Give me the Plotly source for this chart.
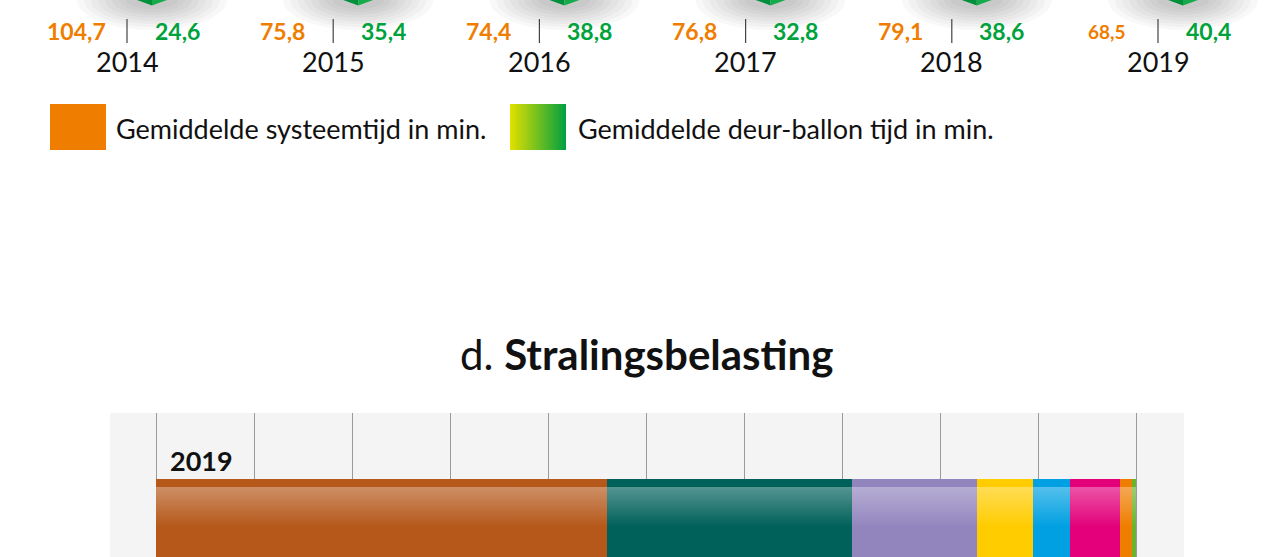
import plotly.graph_objects as go

# top block: averages per year (minutes)
years = [2014, 2015, 2016, 2017, 2018, 2019]
systeemtijd = ["104,7", "75,8", "74,4", "76,8", "79,1", "68,5"]
deur_ballon = ["24,6", "35,4", "38,8", "32,8", "38,6", "40,4"]

# bottom block: Stralingsbelasting 2019, share per source (%)
bar_year = "2019"
bronnen = ["bron 1", "bron 2", "bron 3", "bron 4", "bron 5", "bron 6", "bron 7", "bron 8"]
aandeel = [46.0, 25.0, 12.8, 5.7, 3.8, 5.1, 1.2, 0.4]
kleuren = ["#b5581a", "#00605a", "#9285be", "#ffcc00", "#00a0e2", "#e3007a", "#ef7d00", "#6ab42d"]

FONT = "Lato"
ORANJE = "#ef7d00"
GROEN = "#00a040"
W, H = 1275, 557

fig = go.Figure()

# ---- bar section (x in %, y in px from bottom of the figure) ----
for naam, val, kleur in zip(bronnen, aandeel, kleuren):
    fig.add_trace(go.Bar(
        x=[val], y=[0], orientation="h", width=156, name=naam,
        marker=dict(color=kleur, line=dict(width=0)),
        showlegend=False, hoverinfo="name+x",
    ))

# gloss on every segment
start = 0.0
for val in aandeel:
    end = start + val
    fig.add_trace(go.Scatter(
        x=[start, end, end, start, start], y=[70, 70, 30, 30, 70],
        fill="toself", mode="lines", line=dict(width=0),
        fillgradient=dict(type="vertical",
                          colorscale=[[0, "rgba(255,255,255,0)"], [1, "rgba(255,255,255,0.33)"]]),
        showlegend=False, hoverinfo="skip",
    ))
    start = end

fig.add_shape(type="rect", xref="x", yref="y", x0=-4.7, x1=104.9, y0=0, y1=144,
              fillcolor="#f4f4f4", line=dict(width=0), layer="below")
fig.add_annotation(xref="x", yref="y", x=0, y=97, xanchor="left", xshift=12,
                   text=f"<b>{bar_year}</b>", showarrow=False,
                   font=dict(family=FONT, size=27, color="#111"))

# ---- top section (x in years, y in px from the top) ----
step = 206.2
x0 = years[0] - 127 / step
off = 25 / step
for yr in years:
    for k in range(8):
        rx = (75 - k * 7) / step
        ry = 30 - k * 3
        fig.add_shape(type="circle", xref="x2", yref="y2", x0=yr + off - rx, x1=yr + off + rx,
                      y0=-ry, y1=ry, fillcolor="rgba(0,0,0,0.028)", line=dict(width=0), layer="below")
    hw = 15 / step
    fig.add_shape(type="path", xref="x2", yref="y2",
                  path=f"M {yr + off - hw},0 L {yr + off},0 L {yr + off},5.5 Z",
                  fillcolor="#008f3a", line=dict(width=0))
    fig.add_shape(type="path", xref="x2", yref="y2",
                  path=f"M {yr + off},0 L {yr + off + hw},0 L {yr + off},5.5 Z",
                  fillcolor="#16ab4a", line=dict(width=0))
    fig.add_shape(type="line", xref="x2", yref="y2", x0=yr, x1=yr, y0=19, y1=43,
                  line=dict(color="#444", width=1.2))

for yr, s, d in zip(years, systeemtijd, deur_ballon):
    fig.add_annotation(xref="x2", yref="y2", x=yr, y=31, xshift=-51, text=f"<b>{s}</b>",
                       showarrow=False, font=dict(family=FONT, size=19 if yr == 2019 else 23, color=ORANJE))
    fig.add_annotation(xref="x2", yref="y2", x=yr, y=31, xshift=50, text=f"<b>{d}</b>",
                       showarrow=False, font=dict(family=FONT, size=23, color="#00a23b"))
    fig.add_annotation(xref="x2", yref="y2", x=yr, y=61, text=str(yr),
                       showarrow=False, font=dict(family=FONT, size=27, color="#111"))

# ---- legend + title (pixel axis) ----
fig.add_trace(go.Scatter(
    x=[50, 106, 106, 50, 50], y=[104, 104, 150, 150, 104], xaxis="x3", yaxis="y3",
    fill="toself", fillcolor=ORANJE, mode="lines", line=dict(width=0),
    showlegend=False, hoverinfo="skip",
))
fig.add_trace(go.Scatter(
    x=[510, 566, 566, 510, 510], y=[104, 104, 150, 150, 104], xaxis="x3", yaxis="y3",
    fill="toself", mode="lines", line=dict(width=0),
    fillgradient=dict(type="horizontal", colorscale=[[0, "#e3e000"], [1, GROEN]]),
    showlegend=False, hoverinfo="skip",
))
for xl, txt in [(114, "Gemiddelde systeemtijd in min."), (576, "Gemiddelde deur-ballon tijd in min.")]:
    fig.add_annotation(xref="x3", yref="y3", x=xl, y=128, xanchor="left", text=txt,
                       showarrow=False, font=dict(family=FONT, size=27, color="#111"))
fig.add_annotation(xref="x3", yref="y3", x=646, y=354, text="d. <b>Stralingsbelasting</b>",
                   showarrow=False, font=dict(family=FONT, size=42, color="#111"))

hidden = dict(visible=False, showgrid=False, zeroline=False, fixedrange=True)
fig.update_layout(
    width=W, height=H,
    margin=dict(l=0, r=0, t=0, b=0),
    paper_bgcolor="white", plot_bgcolor="rgba(0,0,0,0)",
    barmode="stack", bargap=0,
    font=dict(family=FONT),
    xaxis=dict(domain=[0, 1], range=[-156 / 9.8, (W - 156) / 9.8], tickvals=list(range(0, 101, 10)),
               showticklabels=False, showgrid=True, gridcolor="#9a9a9a", gridwidth=1,
               zeroline=False, showline=False, fixedrange=True),
    yaxis=dict(domain=[0, 144 / H], range=[0, 144], visible=False, showgrid=False,
               zeroline=False, fixedrange=True),
    xaxis2=dict(hidden, domain=[0, 1], range=[x0, x0 + W / step], anchor="y2"),
    yaxis2=dict(hidden, domain=[0.5, 1], range=[H / 2, 0], anchor="x2"),
    xaxis3=dict(hidden, domain=[0, 1], range=[0, W], anchor="y3"),
    yaxis3=dict(hidden, domain=[0, 1], range=[H, 0], anchor="x3"),
    showlegend=False,
)

# page has a default 8px body margin; drop it so the figure sits at (0, 0)
fig.write_html("out.html", config={"displayModeBar": False},
               post_script="document.body.style.margin='0';")
